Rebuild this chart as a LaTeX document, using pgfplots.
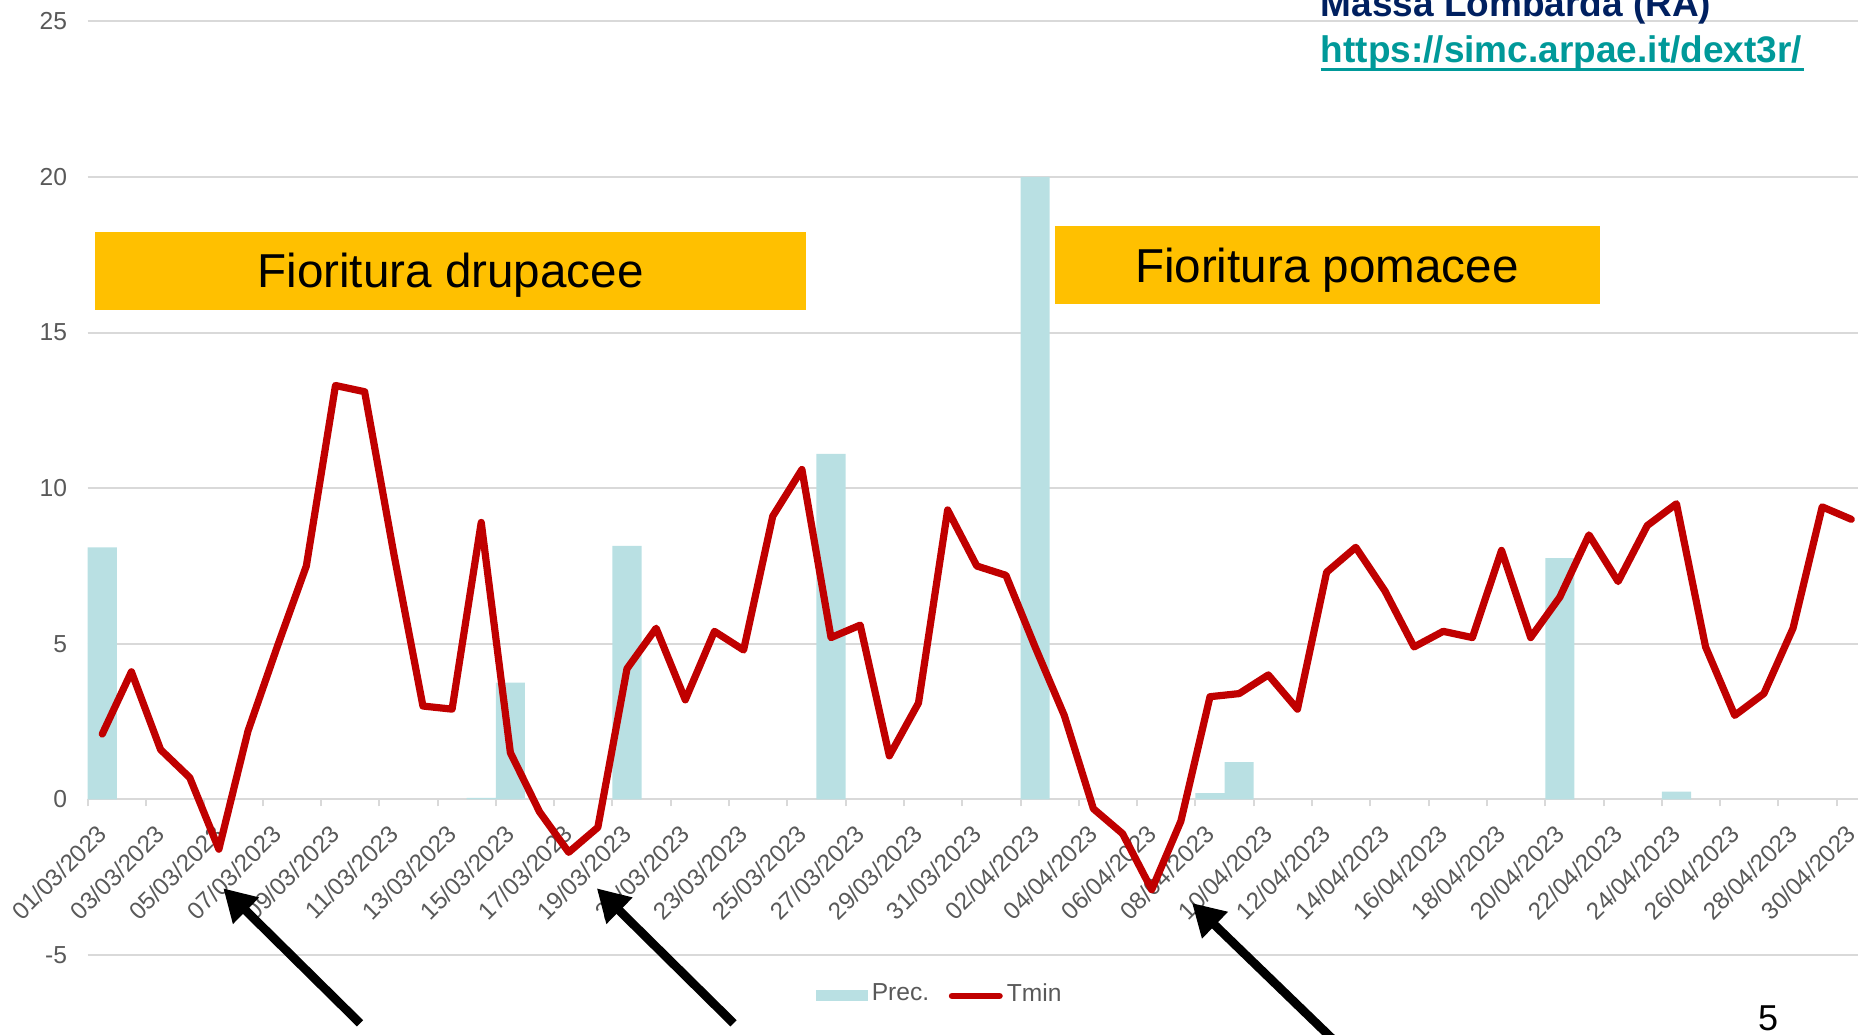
\documentclass[border=0pt]{standalone}
\usepackage{fontspec}
\setmainfont{Liberation Sans}
\usepackage{pgfplots}
\usepackage{pgfplotstable}
\pgfplotsset{compat=1.18}
\usetikzlibrary{arrows.meta}
\definecolor{precol}{HTML}{B9E0E3}
\definecolor{tmincol}{HTML}{C00000}
\definecolor{gridgray}{HTML}{D9D9D9}
\definecolor{labgray}{HTML}{595959}
\definecolor{boxyellow}{HTML}{FFC000}
\definecolor{navy}{HTML}{002060}
\definecolor{linkteal}{HTML}{009999}

\pgfplotstableread{
i t
0 2.1
1 4.1
2 1.6
3 0.7
4 -1.6
5 2.2
6 4.9
7 7.5
8 13.3
9 13.1
10 7.9
11 3.0
12 2.9
13 8.9
14 1.5
15 -0.4
16 -1.7
17 -0.9
18 4.2
19 5.5
20 3.2
21 5.4
22 4.8
23 9.1
24 10.6
25 5.2
26 5.6
27 1.4
28 3.1
29 9.3
30 7.5
31 7.2
32 4.9
33 2.7
34 -0.3
35 -1.1
36 -2.9
37 -0.7
38 3.3
39 3.4
40 4.0
41 2.9
42 7.3
43 8.1
44 6.7
45 4.9
46 5.4
47 5.2
48 8.0
49 5.2
50 6.5
51 8.5
52 7.0
53 8.8
54 9.5
55 4.9
56 2.7
57 3.4
58 5.5
59 9.4
60 9.0
}\tmindata

\pgfplotstableread{
i p
0 8.1
13 0.05
14 3.75
18 8.15
25 11.1
32 20.0
38 0.2
39 1.2
50 7.75
54 0.25
}\precdata

\begin{document}
\begin{tikzpicture}
\useasboundingbox (0,0) rectangle (929pt,517pt);
\begin{axis}[
  at={(43.85pt,39.5pt)}, anchor=south west,
  scale only axis, width=889.1pt, height=466.8pt,
  xmin=-0.5, xmax=60.5, ymin=-5, ymax=25,
  enlargelimits=false,
  axis x line=middle, axis y line=left,
  hide obscured x ticks=false, hide obscured y ticks=false,
  x axis line style={-, draw=gridgray, line width=1pt},
  y axis line style={draw=none},
  ymajorgrids, grid style={gridgray, line width=1pt},
  major tick length=0pt,
  ytick={-5,0,5,10,15,20,25},
  yticklabels={-5,0,5,10,15,20,25},
  yticklabel style={font=\fontsize{12.3pt}{14pt}\selectfont, text=labgray, anchor=east, inner sep=0pt, xshift=-10.1pt},
  xtick={0,2,...,60},
  xticklabels={01/03/2023,03/03/2023,05/03/2023,07/03/2023,09/03/2023,11/03/2023,13/03/2023,15/03/2023,17/03/2023,19/03/2023,21/03/2023,23/03/2023,25/03/2023,27/03/2023,29/03/2023,31/03/2023,02/04/2023,04/04/2023,06/04/2023,08/04/2023,10/04/2023,12/04/2023,14/04/2023,16/04/2023,18/04/2023,20/04/2023,22/04/2023,24/04/2023,26/04/2023,28/04/2023,30/04/2023},
  xticklabel style={font=\fontsize{12.1pt}{14pt}\selectfont, text=labgray, yshift=-15pt, rotate=45, anchor=east, inner sep=0pt},
  extra x ticks={-0.5,1.5,...,59.5},
  extra x tick labels={},
  extra x tick style={major tick length=3.5pt, tick align=outside, xtick style={draw=gridgray, line width=1pt}},
  legend style={at={(0.4096,-0.0417)}, anchor=west, draw=none, fill=none, inner sep=0pt, legend columns=2,
    font=\fontsize{12.3pt}{14pt}\selectfont, nodes={inner sep=0pt, text=labgray},
    /tikz/every odd column/.append style={column sep=2pt},
    /tikz/every even column/.append style={column sep=9.8pt}},
  legend cell align=left,
]
\addplot[ybar, bar width=1, bar shift=0, fill=precol, draw=none,
  legend image code/.code={\fill[precol] (0pt,-3.75pt) rectangle (25.65pt,1.75pt);}]
  table[x=i, y=p]{\precdata};
\addlegendentry{Prec.}
\addplot[tmincol, line width=3.6pt, line join=round, line cap=round, mark=none,
  legend image code/.code={\draw[tmincol, line width=3.3pt, line cap=round] (1.65pt,-1pt) -- (25.35pt,-1pt);}]
  table[x=i, y=t]{\tmindata};
\addlegendentry{Tmin}
\end{axis}
\begin{scope}[x=0.5pt, y=-0.5pt, shift={(0pt,517pt)}]
\fill[boxyellow] (94.8,231.7) rectangle (805.7,310);
\node[anchor=base, inner sep=0pt, font=\fontsize{23.8pt}{28pt}\selectfont] at (450.5,287.3) {Fioritura drupacee};
\fill[boxyellow] (1055.2,226) rectangle (1600.2,304);
\node[anchor=base, inner sep=0pt, font=\fontsize{23.8pt}{28pt}\selectfont] at (1326.8,282.7) {Fioritura pomacee};
\node[anchor=base west, inner sep=0pt, font=\bfseries\fontsize{18.5pt}{22pt}\selectfont, text=navy] at (1320.3,16.7) {Massa Lombarda (RA)};
\node[anchor=base west, inner sep=0pt, font=\bfseries\fontsize{18.5pt}{22pt}\selectfont, text=linkteal] at (1320.4,62.7) {https://simc.arpae.it/dext3r/};
\draw[linkteal, line width=1.5pt] (1320.5,69.2) -- (1804.4,69.2);
\node[anchor=base, inner sep=0pt, font=\fontsize{18pt}{22pt}\selectfont] at (1768,1030) {5};
\draw[line width=4.4pt, -{Triangle[length=16pt,width=17.5pt]}] (360,1023.3) -- (223.3,888.3);
\draw[line width=4.4pt, -{Triangle[length=16pt,width=17.5pt]}] (733.5,1023.3) -- (596.8,888.3);
\draw[line width=4.4pt, -{Triangle[length=16pt,width=17.5pt]}] (1342.4,1048.5) -- (1192,903);
\end{scope}
\end{tikzpicture}
\end{document}
